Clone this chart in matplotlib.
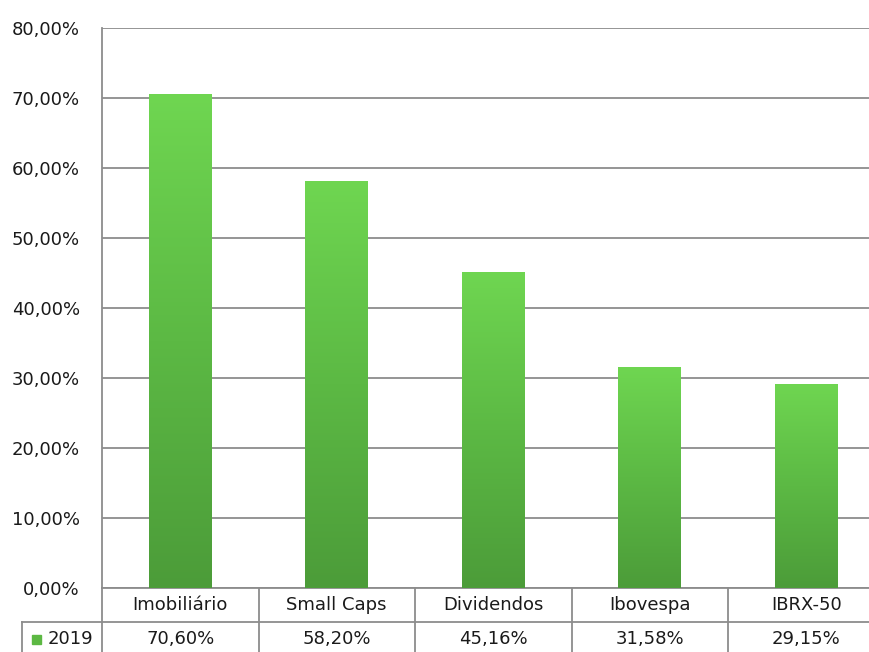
import numpy as np
import matplotlib.pyplot as plt
from matplotlib.colors import LinearSegmentedColormap
from matplotlib.ticker import FuncFormatter

categories = ['Imobiliário', 'Small Caps', 'Dividendos', 'Ibovespa', 'IBRX-50']
values = [70.60, 58.20, 45.16, 31.58, 29.15]
series_name = '2019'
yticks = [0, 10, 20, 30, 40, 50, 60, 70, 80]

W, H = 870, 652
col_w = 156.5
left = 102
fig = plt.figure(figsize=(W / 100, H / 100), dpi=100)
ax = fig.add_axes([left / W, (H - 588) / H, col_w * len(categories) / W, 560 / H])

grid_c = '#8c8c8c'
txt_c = '#1a1a1a'
fs = 13
x = np.arange(len(categories))
bars = ax.bar(x, values, width=0.40, color='none', zorder=3)

cmap = LinearSegmentedColormap.from_list('g', ['#4c9c39', '#5cb944', '#6fd651'])
grad = np.linspace(0, 1, 256).reshape(-1, 1)
for b in bars:
    x0, w, h = b.get_x(), b.get_width(), b.get_height()
    im = ax.imshow(grad, cmap=cmap, origin='lower', aspect='auto',
                   extent=[x0, x0 + w, 0, h], zorder=3)
    im.set_clip_path(b)

ax.set_xlim(-0.5, len(categories) - 0.5)
ax.set_ylim(0, 80)
ax.set_yticks(yticks)
ax.yaxis.set_major_formatter(FuncFormatter(lambda v, p: f'{v:.2f}%'.replace('.', ',')))
ax.set_xticks([])
ax.tick_params(axis='y', length=0, pad=16, labelsize=fs, labelcolor=txt_c)
ax.grid(axis='y', color=grid_c, linewidth=1.3, zorder=0)
for s in ['top', 'right']:
    ax.spines[s].set_visible(False)
ax.spines['left'].set_color(grid_c)
ax.spines['left'].set_linewidth(1.3)
ax.spines['bottom'].set_color(grid_c)
ax.spines['bottom'].set_linewidth(1.3)

# data table below the plot
def fx(px):
    return px / W

def fy(py):
    return (H - py) / H

lw = 1.3
for i in range(len(categories) + 1):
    xx = left + i * col_w
    fig.add_artist(plt.Line2D([fx(xx), fx(xx)], [fy(588), fy(652)], color=grid_c, lw=lw))
fig.add_artist(plt.Line2D([fx(22), fx(W)], [fy(622), fy(622)], color=grid_c, lw=lw))
fig.add_artist(plt.Line2D([fx(22), fx(22)], [fy(622), fy(652)], color=grid_c, lw=lw))

for i, (c, v) in enumerate(zip(categories, values)):
    cx = left + (i + 0.5) * col_w
    fig.text(fx(cx), fy(605), c, ha='center', va='center', fontsize=fs, color=txt_c)
    fig.text(fx(cx), fy(639), f'{v:.2f}%'.replace('.', ','), ha='center', va='center',
             fontsize=fs, color=txt_c)

fig.add_artist(plt.Rectangle((fx(32), fy(644)), 9 / W, 9 / H, color='#5cb843'))
fig.text(fx(48), fy(639), series_name, ha='left', va='center', fontsize=fs, color=txt_c)

fig.savefig('out.png', dpi=100)
